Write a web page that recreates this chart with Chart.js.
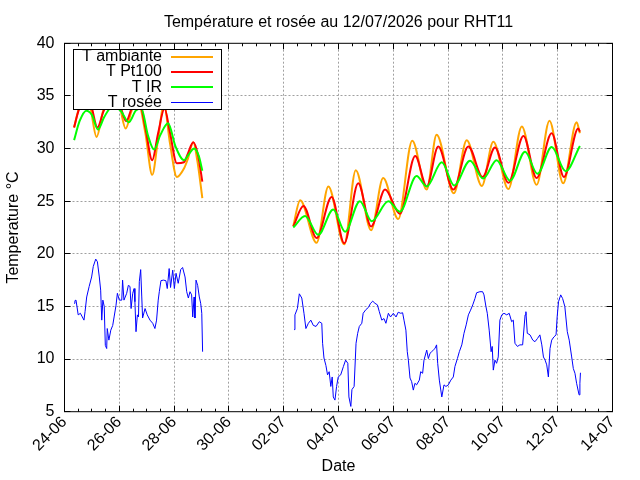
<!DOCTYPE html>
<html>
<head>
<meta charset="utf-8">
<script src="https://cdn.jsdelivr.net/npm/chart.js@4.4.1/dist/chart.umd.min.js"></script>
<style>
  html, body { margin: 0; padding: 0; background: #fff; }
  canvas { display: block; }
</style>
</head>
<body>
<canvas id="chart" width="640" height="480"></canvas>
<script>
// x values are days since 24-06 00:00, a null value breaks the line
var xTickLabels = ['24-06', '26-06', '28-06', '30-06', '02-07', '04-07',
                   '06-07', '08-07', '10-07', '12-07', '14-07'];
var yTickLabels = ['5', '10', '15', '20', '25', '30', '35', '40'];

var ambTime = [0.35, 0.5, 0.72, 0.95, 1.17, 1.4, 1.7, 2.0, 2.23, 2.45, 2.65, 2.95, 3.2, 3.42, 3.63, 3.85, 4.1, 4.36, 4.5, 4.7, 4.85, 5.03,
               6.7,
               8.35, 8.6, 9.2, 9.63, 10.21, 10.63, 11.19, 11.63, 12.18, 12.69, 13.22, 13.58, 14.21, 14.68, 15.23, 15.65, 16.2, 16.69, 17.23, 17.7, 18.2, 18.69, 18.81];
var ambVal = [32.0, 33.6, 35.3, 33.8, 31.1, 33.5, 35.6, 34.2, 31.9, 33.6, 34.8, 31.5, 27.5, 31.0, 34.2, 30.5, 27.3, 28.1, 29.0, 30.6, 28.8, 25.3,
              null,
              22.65, 25.1, 21.05, 26.4, 20.9, 27.95, 22.25, 27.2, 23.3, 30.75, 26.1, 31.3, 25.75, 30.8, 26.45, 30.65, 26.15, 32.1, 26.55, 32.65, 26.7, 32.5, 31.45];

var pt100Time = [0.35, 0.5, 0.75, 0.98, 1.2, 1.42, 1.72, 2.0, 2.25, 2.45, 2.7, 2.95, 3.2, 3.42, 3.65, 3.85, 4.1, 4.36, 4.5, 4.7, 4.88, 5.03,
                 6.7,
                 8.35, 8.72, 9.2, 9.75, 10.21, 10.72, 11.19, 11.7, 12.24, 12.8, 13.22, 13.64, 14.19, 14.74, 15.26, 15.71, 16.2, 16.75, 17.23, 17.78, 18.23, 18.75, 18.81];
var pt100Val = [32.0, 33.5, 35.0, 34.0, 32.0, 33.5, 35.0, 34.3, 32.6, 33.8, 34.8, 32.0, 28.9, 31.5, 33.8, 31.5, 28.6, 28.7, 29.5, 30.6, 29.3, 26.85,
                null,
                22.6, 24.55, 21.5, 25.4, 21.0, 26.7, 22.6, 26.1, 23.8, 29.3, 26.4, 30.2, 26.1, 30.2, 27.3, 30.1, 26.75, 31.2, 27.2, 31.45, 27.3, 31.9, 31.6];

var irTime = [0.35, 0.55, 0.8, 1.0, 1.22, 1.45, 1.75, 2.05, 2.35, 2.6, 2.8, 3.05, 3.27, 3.5, 3.78, 4.05, 4.36, 4.55, 4.73, 4.9, 5.03,
              6.7,
              8.35, 8.78, 9.26, 9.81, 10.24, 10.78, 11.21, 11.82, 12.24, 12.85, 13.22, 13.77, 14.22, 14.8, 15.28, 15.77, 16.26, 16.81, 17.26, 17.78, 18.29, 18.81];
var irVal = [30.8, 32.6, 33.6, 33.2, 31.8, 33.0, 34.0, 33.6, 32.5, 33.6, 33.8, 31.2, 29.9, 31.3, 32.4, 30.2, 28.9, 29.5, 30.0, 29.3, 27.9,
             null,
             22.5, 23.6, 21.8, 24.2, 22.1, 25.0, 23.1, 25.0, 24.0, 27.4, 26.4, 28.7, 26.5, 28.85, 27.15, 28.9, 26.95, 29.7, 27.6, 30.15, 27.85, 30.25];

var dewTime1 = [0.35, 0.38, 0.42, 0.50, 0.58, 0.65, 0.71, 0.75, 0.81, 0.90,
                0.99, 1.05, 1.14, 1.20, 1.27, 1.32, 1.36, 1.40, 1.45, 1.49,
                1.54, 1.56, 1.62, 1.69, 1.76, 1.81, 1.88, 1.93, 2.00, 2.09,
                2.12, 2.17, 2.27, 2.33, 2.39, 2.43, 2.49, 2.54, 2.57, 2.61,
                2.66, 2.70, 2.73, 2.78, 2.82, 2.85, 2.94, 3.02, 3.12, 3.22,
                3.30, 3.36, 3.42, 3.46, 3.52, 3.61, 3.70, 3.75, 3.82, 3.87,
                3.95, 4.01, 4.07, 4.15, 4.24, 4.31, 4.40, 4.46, 4.52, 4.58,
                4.64, 4.68, 4.73, 4.76, 4.80, 4.86, 4.92, 4.97, 5.01, 5.04];
var dewVal1 = [15.3, 15.55, 15.6, 14.2, 14.35, 14.0, 13.7, 14.5, 15.9, 16.9,
               17.8, 18.8, 19.5, 19.25, 17.8, 16.55, 13.7, 15.6, 15.0, 11.3,
               11.0, 12.9, 11.8, 12.75, 13.2, 14.0, 15.1, 16.25, 15.6, 15.6,
               17.5, 15.6, 16.25, 17.0, 16.9, 14.8, 16.25, 16.7, 15.45, 12.6,
               14.2, 14.0, 17.35, 18.5, 15.9, 13.9, 14.8, 14.2, 13.7, 13.4,
               12.9, 13.7, 15.6, 16.4, 17.45, 17.5, 17.45, 16.7, 18.6, 16.8,
               18.45, 16.7, 18.15, 17.2, 18.5, 18.7, 17.8, 16.4, 15.8, 16.4,
               16.1, 14.0, 15.9, 13.9, 17.5, 17.0, 15.9, 15.3, 14.35, 10.7];

var dewTime2 = [8.38, 8.41, 8.50, 8.57, 8.66, 8.74, 8.81, 8.90, 8.99, 9.08,
                9.18, 9.30, 9.39, 9.42, 9.47, 9.54, 9.60, 9.66, 9.72, 9.77,
                9.81, 9.87, 9.93, 9.99, 10.08, 10.18, 10.26, 10.34, 10.38, 10.45,
                10.49, 10.57, 10.64, 10.70, 10.76, 10.85, 10.90, 11.00, 11.09, 11.17,
                11.25, 11.33, 11.42, 11.49, 11.58, 11.66, 11.73, 11.82, 11.90, 12.00,
                12.10, 12.18, 12.27, 12.34, 12.39, 12.46, 12.51, 12.55, 12.61, 12.67,
                12.73, 12.79, 12.85, 12.95, 13.00, 13.07, 13.12, 13.22, 13.28, 13.34,
                13.40, 13.46, 13.52, 13.58, 13.62, 13.68, 13.77, 13.85, 13.92, 14.01,
                14.10, 14.19, 14.25, 14.34, 14.41, 14.50, 14.58, 14.66, 14.74, 14.82,
                14.90, 14.98, 15.04, 15.16, 15.26, 15.31, 15.38, 15.43, 15.50, 15.57,
                15.61, 15.65, 15.71, 15.77, 15.83, 15.89, 15.96, 16.04, 16.14, 16.23,
                16.32, 16.38, 16.44, 16.53, 16.62, 16.72, 16.81, 16.84, 16.89, 16.99,
                17.09, 17.17, 17.26, 17.35, 17.42, 17.48, 17.54, 17.60, 17.66, 17.72,
                17.78, 17.86, 17.94, 17.98, 18.03, 18.11, 18.18, 18.26, 18.35, 18.42,
                18.51, 18.57, 18.63, 18.69, 18.78, 18.81, 18.83];
var dewVal2 = [12.8, 14.2, 14.8, 16.2, 15.8, 14.35, 12.9, 13.4, 13.7, 13.2,
               13.1, 13.55, 13.4, 11.5, 10.1, 9.4, 8.5, 8.8, 7.4, 8.3,
               6.4, 6.1, 7.4, 8.3, 8.5, 9.3, 9.9, 9.6, 6.4, 5.5,
               7.1, 7.4, 11.5, 12.45, 13.1, 13.4, 14.35, 14.7, 14.9, 15.3,
               15.5, 15.3, 15.15, 14.5, 13.7, 13.85, 13.4, 14.35, 14.0, 14.35,
               14.0, 14.45, 14.35, 14.4, 13.7, 12.75, 10.7, 9.9, 8.2, 7.85,
               7.05, 7.7, 7.55, 8.0, 8.8, 8.65, 9.9, 10.85, 10.05, 10.55,
               10.7, 10.85, 11.0, 11.35, 9.6, 8.0, 6.4, 7.55, 7.4, 7.55,
               8.0, 8.3, 9.3, 10.05, 10.7, 11.35, 12.45, 13.25, 14.2, 14.65,
               15.15, 15.75, 16.3, 16.4, 16.4, 16.1, 15.0, 14.35, 12.75, 10.7,
               11.2, 8.95, 9.9, 9.6, 10.2, 13.7, 14.2, 14.35, 14.2, 14.35,
               13.55, 13.7, 11.5, 11.2, 11.35, 11.35, 14.2, 14.5, 12.45, 12.3,
               11.8, 11.65, 11.95, 12.3, 11.35, 10.2, 9.9, 9.45, 8.3, 11.0,
               11.8, 12.1, 12.3, 14.0, 15.45, 16.1, 15.75, 15.0, 12.6, 11.8,
               10.2, 9.1, 8.65, 7.7, 6.6, 7.7, 8.7];

var FONT = '"Liberation Sans", Arial, sans-serif';
Chart.defaults.font.family = FONT;
Chart.defaults.font.size = 16;
Chart.defaults.color = '#000';

function toPoints(ts, vs) {
  var pts = [];
  for (var i = 0; i < ts.length; i++) pts.push({x: ts[i], y: vs[i]});
  return pts;
}

var dewPoints = toPoints(dewTime1, dewVal1)
  .concat([{x: 6.7, y: null}])
  .concat(toPoints(dewTime2, dewVal2));

function align(px) {
  return Math.round(px - 0.5) + 0.5;
}

// gnuplot style: dotted grid, title, inward ticks on all sides, boxed legend, frame
var gnuplotLook = {
  id: 'gnuplotLook',
  beforeDatasetsDraw: function(chart) {
    var ctx = chart.ctx, a = chart.chartArea;
    var xs = chart.scales.x, ys = chart.scales.y;
    ctx.save();
    ctx.strokeStyle = '#a0a0a0';
    ctx.lineWidth = 1;
    ctx.setLineDash([2, 2]);
    ctx.beginPath();
    for (var d = xs.min + 2; d < xs.max; d += 2) {
      var px = align(xs.getPixelForValue(d));
      ctx.moveTo(px, a.bottom); ctx.lineTo(px, a.top);
    }
    for (var v = ys.min + 5; v < ys.max; v += 5) {
      var py = align(ys.getPixelForValue(v));
      ctx.moveTo(a.left, py); ctx.lineTo(a.right, py);
    }
    ctx.stroke();
    ctx.restore();
  },
  afterDatasetsDraw: function(chart) {
    var ctx = chart.ctx, a = chart.chartArea;
    var xs = chart.scales.x, ys = chart.scales.y;
    ctx.save();
    ctx.strokeStyle = '#000';
    ctx.lineWidth = 1;
    ctx.setLineDash([]);
    ctx.beginPath();
    for (var d = xs.min; d <= xs.max + 0.001; d += 0.5) {
      var px = align(xs.getPixelForValue(d));
      var len = (Math.abs(d / 2 - Math.round(d / 2)) < 0.01) ? 6 : 3;
      ctx.moveTo(px, a.bottom); ctx.lineTo(px, a.bottom - len);
      ctx.moveTo(px, a.top); ctx.lineTo(px, a.top + len);
    }
    for (var v = ys.min; v <= ys.max; v += 5) {
      var py = align(ys.getPixelForValue(v));
      ctx.moveTo(a.left, py); ctx.lineTo(a.left + 6, py);
      ctx.moveTo(a.right, py); ctx.lineTo(a.right - 6, py);
    }
    ctx.stroke();

    // legend box
    var lx = 73.5, ly = 49.5, lw = 148, lh = 60;
    ctx.fillStyle = '#fff';
    ctx.fillRect(lx, ly, lw, lh);
    ctx.strokeRect(lx, ly, lw, lh);
    ctx.font = '16px ' + FONT;
    ctx.textAlign = 'right';
    ctx.textBaseline = 'alphabetic';
    chart.data.datasets.forEach(function(ds, i) {
      var rowY = 56.7 + i * 15.2;
      ctx.fillStyle = '#000';
      ctx.fillText(ds.label, 162, rowY + 4.5);
      ctx.strokeStyle = ds.borderColor;
      ctx.lineWidth = ds.borderWidth;
      ctx.beginPath();
      ctx.moveTo(171, Math.round(rowY) + (ds.borderWidth === 1 ? 0.5 : 0));
      ctx.lineTo(213, Math.round(rowY) + (ds.borderWidth === 1 ? 0.5 : 0));
      ctx.stroke();
    });

    // frame
    ctx.strokeStyle = '#000';
    ctx.lineWidth = 1;
    ctx.strokeRect(a.left, a.top, a.right - a.left, a.bottom - a.top);

    // title
    ctx.fillStyle = '#000';
    ctx.textAlign = 'center';
    ctx.fillText('Température et rosée au 12/07/2026 pour RHT11', (a.left + a.right) / 2, 26.5);
    ctx.restore();
  }
};

new Chart(document.getElementById('chart'), {
  type: 'line',
  data: {
    datasets: [{
      label: 'T ambiante',
      data: toPoints(ambTime, ambVal),
      borderColor: '#ffa500',
      borderWidth: 2,
      cubicInterpolationMode: 'monotone',
      order: 4
    }, {
      label: 'T Pt100',
      data: toPoints(pt100Time, pt100Val),
      borderColor: '#ff0000',
      borderWidth: 2,
      cubicInterpolationMode: 'monotone',
      order: 3
    }, {
      label: 'T IR',
      data: toPoints(irTime, irVal),
      borderColor: '#00ff00',
      borderWidth: 2,
      cubicInterpolationMode: 'monotone',
      order: 2
    }, {
      label: 'T rosée',
      data: dewPoints,
      borderColor: '#0000ff',
      borderWidth: 1,
      tension: 0,
      order: 1
    }]
  },
  options: {
    responsive: false,
    animation: false,
    spanGaps: false,
    elements: { point: { radius: 0 } },
    layout: { padding: { top: 43.3, right: 27.5, left: 0, bottom: 0 } },
    plugins: {
      legend: { display: false },
      title: { display: false },
      tooltip: { enabled: false }
    },
    scales: {
      x: {
        type: 'linear',
        min: 0,
        max: 20,
        afterFit: function(scale) { scale.height = 68.3; },
        ticks: {
          stepSize: 2,
          autoSkip: false,
          minRotation: 45,
          maxRotation: 45,
          padding: 1,
          callback: function(value) { return xTickLabels[Math.round(value / 2)]; }
        },
        grid: { display: false, drawTicks: false },
        border: { display: false },
        title: { display: true, text: 'Date', padding: 4 }
      },
      y: {
        min: 5,
        max: 40,
        afterFit: function(scale) { scale.width = 64.5; },
        ticks: {
          stepSize: 5,
          padding: 10,
          callback: function(value) { return yTickLabels[Math.round((value - 5) / 5)]; }
        },
        grid: { display: false, drawTicks: false },
        border: { display: false },
        title: { display: true, text: 'Temperature °C', padding: 4 }
      }
    }
  },
  plugins: [gnuplotLook]
});
</script>
</body>
</html>
